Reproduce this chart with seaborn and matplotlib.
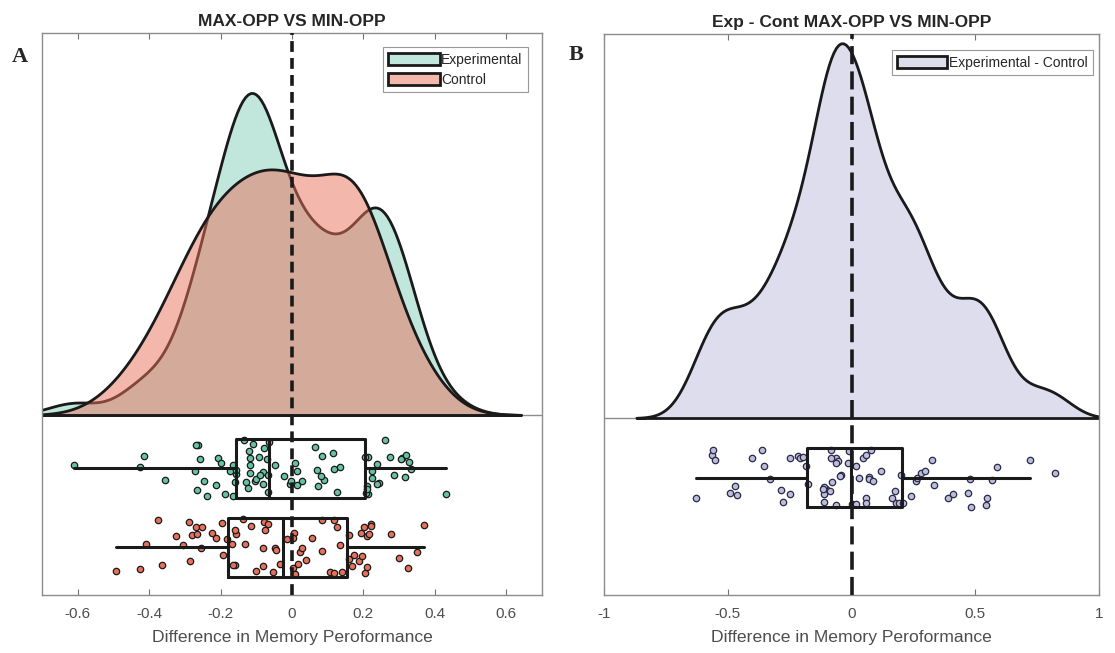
import numpy as np
import matplotlib
matplotlib.use('Agg')
import matplotlib.pyplot as plt
import seaborn as sns
from matplotlib.patches import Patch

# ---------------- data ----------------
exp_vals = [-0.611, -0.415, -0.357, -0.427, -0.264, -0.268, -0.266, -0.212, -0.187, -0.175,
            -0.238, -0.271, -0.259, -0.246, -0.206, -0.198, -0.164, -0.164, -0.128, -0.117,
            -0.103, -0.092, -0.080, -0.122, -0.119, -0.120, -0.101, -0.082, -0.066, -0.064,
            -0.134, -0.117, -0.108, -0.078, -0.091, -0.068, -0.070, -0.047, -0.022, -0.006,
            -0.157, -0.158, -0.160,
            0.090, 0.069, 0.064, 0.008, 0.029, -0.004, 0.015, 0.013, 0.074, 0.134,
            0.125, 0.117, 0.080, 0.085, 0.115, 0.213, 0.204, 0.286, 0.308, 0.316,
            0.238, 0.224, 0.223, 0.213, 0.244, 0.260, 0.239, 0.274, 0.304, 0.320,
            0.332, 0.327, 0.430, 0.207, 0.209, 0.211]
ctrl_vals = [-0.494, -0.425, -0.408, -0.364, -0.376, -0.324, -0.304, -0.280, -0.287, -0.289,
             -0.269, -0.266, -0.254, -0.252, -0.223, -0.212, -0.196, -0.182, -0.192, -0.168,
             -0.159, -0.166, -0.156, -0.159, -0.136, -0.115, -0.131, -0.101, -0.082, -0.078,
             -0.075, -0.047, -0.046, -0.034, -0.080, -0.052, -0.068, -0.015, 0.004, 0.022,
             0.008, 0.018, 0.006, 0.004, 0.029, 0.038, 0.055, 0.083, 0.083, 0.106,
             0.118, 0.140, 0.117, 0.134, 0.127, 0.167, 0.187, 0.210, 0.221, 0.195,
             0.204, 0.220, 0.160, 0.193, 0.210, 0.160, 0.201, 0.215, 0.174, 0.276,
             0.325, 0.299, 0.351, 0.369]
diff_vals = [-0.627, -0.564, -0.553, -0.560, -0.472, -0.463, -0.490, -0.401, -0.361, -0.352,
             -0.331, -0.284, -0.247, -0.215, -0.278, -0.248, -0.208, -0.195, -0.103, -0.087,
             -0.077, -0.043, -0.110, -0.063, -0.046, -0.056, -0.110, -0.083, -0.063, -0.113,
             -0.009, 0.020, -0.083, -0.063, 0.004, -0.013, -0.117, 0.071, 0.058, 0.078,
             0.031, 0.045, 0.058, 0.071, 0.018, 0.058, 0.087, 0.181, 0.192, 0.199,
             0.208, 0.239, 0.259, 0.266, 0.279, 0.297, 0.333, 0.121, 0.163, 0.176,
             0.324, 0.389, 0.410, 0.471, 0.477, 0.483, 0.544, 0.568, 0.548, 0.588,
             0.722, 0.823, -0.182, -0.176]

series_labels_A = ['Experimental', 'Control']
series_labels_B = ['Experimental - Control']
titles = ['MAX-OPP VS MIN-OPP', 'Exp - Cont MAX-OPP VS MIN-OPP']
xlabel = 'Difference in Memory Peroformance'
ticks_A = [-0.6, -0.4, -0.2, 0, 0.2, 0.4, 0.6]
ticklabels_A = ['-0.6', '-0.4', '-0.2', '0', '0.2', '0.4', '0.6']
ticks_B = [-1, -0.5, 0, 0.5, 1]
ticklabels_B = ['-1', '-0.5', '0', '0.5', '1']

EXP = '#66C2A5'
CTRL = '#E8705A'
DIFF = '#BCBDDC'

sns.set_theme(style='white')
plt.rcParams['font.family'] = ['Liberation Sans', 'DejaVu Sans']
np.random.seed(3)

W, H = 1115, 653
fig = plt.figure(figsize=(W / 100, H / 100), dpi=100)
axA = fig.add_axes([42 / W, 58 / H, 500 / W, 562 / H])
axB = fig.add_axes([604 / W, 58 / H, 495 / W, 561 / H])


def poly_max(ax):
    m = 0
    for c in ax.collections:
        for p in c.get_paths():
            if len(p.vertices):
                m = max(m, p.vertices[:, 1].max())
    return m


def raincloud_box(ax, vals, pos, w, color, edge):
    sns.stripplot(x=vals, y=np.full(len(vals), pos), orient='h', native_scale=True,
                  jitter=w * 0.5, color=color, edgecolor=edge, linewidth=0.9, size=4.6,
                  ax=ax, zorder=2)
    ax.boxplot([vals], positions=[pos], widths=[w], orientation='horizontal', whis=1.5,
               showfliers=False, showcaps=False, manage_ticks=False,
               boxprops=dict(color='k', lw=2.2, zorder=3),
               whiskerprops=dict(color='k', lw=2.2, zorder=3),
               medianprops=dict(color='k', lw=2.2, zorder=3))


# ---------------- Panel A ----------------
sns.kdeplot(x=exp_vals, ax=axA, fill=True, color=EXP, alpha=0.4, edgecolor='k',
            linewidth=2, bw_adjust=0.8, zorder=1)
sns.kdeplot(x=ctrl_vals, ax=axA, fill=True, color=CTRL, alpha=0.5, edgecolor='k',
            linewidth=2, bw_adjust=1.0, zorder=1.1)
D = poly_max(axA)
u = D / 322.0
raincloud_box(axA, exp_vals, -53 * u, 59 * u, EXP, '#1a1a1a')
raincloud_box(axA, ctrl_vals, -132 * u, 59 * u, CTRL, '#1a1a1a')
axA.set_ylim(-180 * u, 382 * u)
axA.set_xlim(-0.7, 0.7)
axA.axhline(0, color='0.55', lw=1, zorder=0.5)
axA.axvline(0, color='k', lw=2.6, ls=(0, (3.0, 1.7)), zorder=4)

# ---------------- Panel B ----------------
sns.kdeplot(x=diff_vals, ax=axB, fill=True, color=DIFF, alpha=0.5, edgecolor='k',
            linewidth=2, bw_adjust=0.6, zorder=1)
D2 = poly_max(axB)
u2 = D2 / 374.7
raincloud_box(axB, diff_vals, -59.7 * u2, 59 * u2, DIFF, '#2a2a45')
axB.set_ylim(-177 * u2, 384 * u2)
axB.set_xlim(-1, 1)
axB.axhline(0, color='0.55', lw=1, zorder=0.5)
axB.axvline(0, color='k', lw=2.6, ls=(0, (5.0, 2.0)), zorder=4)

for ax, ttl, tks, tls in [(axA, titles[0], ticks_A, ticklabels_A),
                          (axB, titles[1], ticks_B, ticklabels_B)]:
    ax.set_title(ttl, fontsize=12.5, fontweight='bold', pad=5)
    ax.set_xticks(tks)
    ax.set_xticklabels(tls)
    ax.set_yticks([])
    ax.set_ylabel('')
    ax.set_xlabel(xlabel, fontsize=12.6, color='0.3', labelpad=6)
    ax.tick_params(axis='x', direction='in', top=True, bottom=True, length=4, width=0.8,
                   color='0.45', labelcolor='0.3', labelsize=11, pad=9)
    for s in ax.spines.values():
        s.set_color('0.55')
        s.set_linewidth(1)
    ax.grid(False)

legA = axA.legend(handles=[Patch(facecolor=(0.4, 0.76, 0.65, 0.4), edgecolor='k', lw=2),
                           Patch(facecolor=(0.91, 0.44, 0.35, 0.5), edgecolor='k', lw=2)],
                  labels=series_labels_A, loc='upper right', fontsize=10, frameon=True,
                  fancybox=False, edgecolor='0.5', handlelength=3.7, handleheight=0.95,
                  borderpad=0.4, labelspacing=0.45, handletextpad=0.1, borderaxespad=0,
                  bbox_to_anchor=(486 / 500, 1 - 14 / 562))
legA.get_frame().set_linewidth(0.8)
legB = axB.legend(handles=[Patch(facecolor=(0.74, 0.74, 0.86, 0.5), edgecolor='k', lw=2)],
                  labels=series_labels_B, loc='upper right', fontsize=10, frameon=True,
                  fancybox=False, edgecolor='0.5', handlelength=3.6, handleheight=0.95,
                  borderpad=0.4, handletextpad=0.1, borderaxespad=0,
                  bbox_to_anchor=(489 / 495, 1 - 16 / 561))
legB.get_frame().set_linewidth(0.8)

fig.text(20 / W, 1 - 57 / H, 'A', fontfamily='Liberation Serif', fontweight='bold',
         fontsize=16, ha='center', va='center')
fig.text(576 / W, 1 - 55 / H, 'B', fontfamily='Liberation Serif', fontweight='bold',
         fontsize=16, ha='center', va='center')

fig.savefig('out.png', dpi=100)
